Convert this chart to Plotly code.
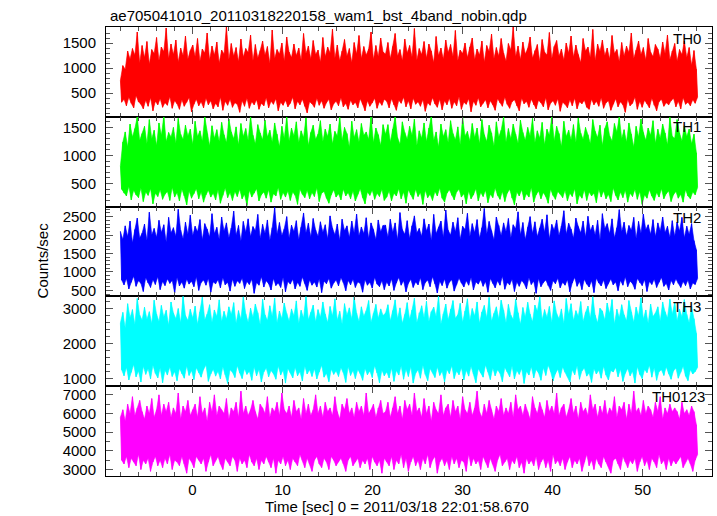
import plotly.graph_objects as go
from plotly.subplots import make_subplots

TITLE = "ae705041010_20110318220158_wam1_bst_4band_nobin.qdp"
X_TITLE = "Time [sec] 0 = 2011/03/18 22:01:58.670"
Y_TITLE = "Counts/sec"
T_START = -8.0
T_END = 56.1

band_names = ["TH0", "TH1", "TH2", "TH3", "TH0123"]
band_colors = ["#ff0000", "#00ff00", "#0000ff", "#00ffff", "#ff00ff"]

# alternating local peaks / troughs of each light curve, read along the time axis
th0 = [
    760, 320, 1050, 380, 980, 250, 1340, 420, 1180, 300, 1390, 210, 1260, 450, 1720, 330, 1100, 280, 1450, 190,
    1210, 360, 1530, 240, 1080, 410, 1370, 150, 1290, 340, 1610, 270, 1150, 390, 1420, 220, 1330, 310, 1800, 260,
    1190, 430, 1480, 200, 1270, 350, 1560, 290, 1120, 180, 1400, 370, 1250, 240, 1640, 320, 1180, 410, 1350, 130,
    1460, 280, 1230, 380, 1590, 250, 1140, 330, 1380, 210, 1300, 400, 1700, 270, 1160, 350, 1440, 190, 1260, 300,
    1520, 230, 1100, 420, 1360, 160, 1280, 340, 1830, 260, 1170, 380, 1490, 220, 1240, 310, 1410, 280, 1130, 120,
    1580, 350, 1220, 240, 1390, 400, 1310, 200, 1660, 330, 1150, 270, 1470, 370, 1200, 180, 1350, 300, 1540, 250,
    1260, 410, 1430, 210, 1090, 340, 1760, 280, 1190, 390, 1370, 150, 1280, 320, 1500, 260, 1140, 360, 1620, 230,
    1320, 300, 1210, 420, 1480, 190, 1250, 340, 1400, 270, 1160, 380, 1690, 240, 1290, 110, 1440, 330, 1180, 290,
    1550, 220, 1270, 400, 1360, 260, 1120, 350, 1610, 200, 1230, 310, 1420, 380, 1300, 170, 1780, 290, 1200, 340,
    1460, 250, 1150, 410, 1340, 230, 1570, 300, 1240, 180, 1390, 360, 1110, 270, 1510, 320, 1280, 210, 1650, 390,
    1190, 280, 1430, 150, 1260, 350, 1380, 240, 1720, 310, 1170, 400, 1450, 200, 1230, 330, 1600, 260, 1320, 380,
    1280, 340, 1510, 210, 1190, 390, 1430, 270, 1690, 160, 1240, 360, 1370, 300, 1150, 420, 1580, 230, 1300, 350,
    1450, 190, 1220, 400, 1790, 280, 1160, 330, 1390, 240, 1270, 370, 1530, 140, 1200, 310, 1480, 260, 1340, 410,
    1110, 290, 1630, 220, 1250, 380, 1400, 170, 1180, 350, 1560, 270, 1310, 400, 1470, 200, 1230, 330, 1750, 250,
    1150, 430, 1360, 180, 1290, 320, 1500, 280, 1210, 390, 1420, 130, 1600, 340, 1170, 260, 1380, 410, 1260, 230,
    1540, 300, 1120, 370, 1450, 210, 1330, 350, 1680, 270, 1190, 160, 1410, 390, 1240, 310, 1590, 240, 1300, 420,
    1140, 280, 1490, 200, 1360, 330, 1820, 370, 1230, 250, 1440, 150, 1170, 400, 1520, 290, 1280, 340, 1390, 220,
    1620, 380, 1200, 270, 1350, 190, 1470, 360, 1130, 310, 1570, 230, 1320, 410, 1260, 170, 1710, 300, 1190, 350,
    1430, 260, 1550, 390, 1240, 140, 1380, 320, 1160, 280, 1500, 210, 1300, 370, 1640, 250, 1220, 400, 1460, 190,
    1270, 330, 1110, 290, 1590, 360, 1340, 220, 1420, 180, 1210, 380, 1770, 270, 1150, 340, 1480, 240, 1330, 410,
    1560, 200, 1250, 310, 1400, 350, 1180, 160, 1650, 290, 1290, 390, 1370, 230, 1130, 330, 1510, 270, 1240, 120,
    1440, 380, 1310, 250, 1700, 300, 1190, 420, 1360, 180, 1540, 340, 1270, 220, 1410, 360, 1160, 290, 1590, 210,
    1320, 400, 1230, 260, 1470, 150, 1380, 330, 1200, 380, 1520, 240, 1290, 310, 1660, 270, 1170, 350, 1340, 400,
    1490, 230, 1140, 340, 1370, 190, 1270, 410, 1540, 280, 1210, 320, 1410, 250, 1060, 370, 1350, 300, 980, 420,
]
th1 = [
    820, 400, 1240, 330, 1420, 280, 1150, 450, 1560, 210, 1330, 380, 1480, 300, 1690, 250, 1270, 420, 1390, 180,
    1520, 350, 1210, 290, 1640, 410, 1300, 140, 1450, 330, 1180, 270, 1580, 390, 1360, 220, 1700, 310, 1250, 360,
    1410, 200, 1330, 430, 1500, 260, 1220, 340, 1660, 190, 1380, 400, 1290, 280, 1540, 120, 1350, 370, 1470, 240,
    1200, 320, 1610, 410, 1340, 230, 1440, 350, 1260, 170, 1690, 300, 1390, 380, 1170, 260, 1530, 330, 1310, 210,
    1460, 390, 1250, 150, 1590, 290, 1370, 420, 1230, 250, 1650, 340, 1420, 200, 1300, 360, 1510, 270, 1190, 400,
    1570, 230, 1340, 310, 1480, 110, 1270, 380, 1700, 260, 1360, 330, 1210, 410, 1550, 190, 1400, 300, 1280, 350,
    1630, 240, 1330, 390, 1450, 170, 1240, 320, 1580, 280, 1380, 430, 1160, 220, 1520, 340, 1310, 260, 1690, 370,
    1260, 200, 1490, 350, 1350, 290, 1600, 130, 1230, 400, 1440, 310, 1320, 250, 1670, 380, 1180, 230, 1410, 340,
    1540, 270, 1290, 420, 1380, 180, 1620, 330, 1250, 360, 1470, 240, 1340, 150, 1560, 300, 1210, 390, 1430, 260,
    1350, 320, 1680, 210, 1270, 400, 1500, 280, 1390, 340, 1150, 230, 1610, 370, 1320, 190, 1460, 310, 1240, 410,
    1570, 250, 1360, 140, 1420, 350, 1290, 290, 1700, 380, 1230, 220, 1490, 330, 1370, 270, 1180, 400, 1550, 200,
    1380, 260, 1550, 370, 1240, 190, 1470, 330, 1690, 280, 1320, 410, 1200, 230, 1600, 350, 1410, 150, 1290, 390,
    1520, 300, 1360, 220, 1650, 400, 1180, 270, 1440, 340, 1310, 130, 1580, 380, 1250, 250, 1490, 310, 1700, 200,
    1270, 360, 1420, 280, 1150, 420, 1560, 240, 1340, 170, 1460, 330, 1230, 390, 1620, 290, 1390, 210, 1280, 350,
    1510, 400, 1190, 260, 1680, 320, 1350, 140, 1430, 370, 1260, 230, 1570, 300, 1320, 410, 1490, 190, 1210, 340,
    1640, 270, 1370, 380, 1250, 160, 1540, 310, 1400, 250, 1170, 420, 1600, 290, 1330, 220, 1450, 360, 1690, 180,
    1240, 330, 1480, 400, 1300, 240, 1560, 120, 1380, 350, 1220, 280, 1630, 390, 1410, 210, 1270, 320, 1500, 260,
    1350, 430, 1660, 170, 1230, 300, 1440, 370, 1310, 230, 1590, 340, 1190, 270, 1470, 150, 1360, 400, 1700, 290,
    1260, 220, 1520, 360, 1390, 310, 1160, 250, 1610, 380, 1340, 190, 1450, 330, 1280, 270, 1550, 410, 1230, 140,
    1670, 300, 1400, 240, 1290, 390, 1500, 200, 1370, 350, 1210, 280, 1640, 330, 1430, 160, 1320, 400, 1540, 260,
    1180, 370, 1480, 230, 1600, 310, 1350, 180, 1260, 420, 1570, 290, 1420, 210, 1690, 350, 1300, 250, 1460, 380,
    1240, 170, 1580, 330, 1380, 270, 1150, 400, 1520, 220, 1330, 360, 1650, 130, 1410, 300, 1270, 240, 1490, 390,
    1360, 280, 1620, 200, 1220, 340, 1470, 260, 1310, 410, 1560, 230, 1400, 320, 1190, 370, 1680, 180, 1340, 300,
    1310, 360, 1640, 240, 1400, 310, 1260, 170, 1530, 390, 1340, 280, 1470, 230, 1210, 350, 1380, 300, 1050, 430,
]
th2 = [
    2100, 780, 1880, 650, 2250, 820, 1960, 540, 2380, 720, 1790, 880, 2150, 610, 2460, 760, 1920, 690, 2050, 470,
    2300, 840, 1850, 700, 2620, 580, 2010, 790, 2180, 660, 1940, 870, 2400, 520, 2070, 740, 2280, 630, 1810, 810,
    2480, 690, 2060, 770, 2200, 430, 1970, 850, 2700, 620, 2130, 730, 1900, 560, 2350, 800, 2020, 670, 2540, 750,
    1980, 600, 2240, 860, 2090, 500, 2420, 710, 1870, 780, 2310, 640, 2160, 820, 1950, 450, 2580, 730, 2040, 680,
    2210, 790, 1890, 570, 2490, 840, 2110, 650, 2330, 720, 1930, 480, 2190, 800, 2650, 610, 2000, 760, 2260, 690,
    1840, 830, 2370, 550, 2080, 740, 2440, 660, 1960, 800, 2230, 420, 2120, 710, 2560, 640, 1910, 870, 2290, 590,
    2050, 760, 2410, 680, 1860, 510, 2200, 820, 2750, 630, 2030, 700, 2340, 580, 1990, 850, 2170, 460, 2500, 740,
    1920, 670, 2270, 800, 2100, 540, 2390, 720, 1880, 610, 2210, 860, 2600, 690, 2060, 500, 2320, 780, 1950, 640,
    2450, 730, 2140, 590, 1970, 810, 2360, 440, 2080, 750, 2280, 680, 1900, 820, 2520, 560, 2190, 700, 2010, 780,
    2300, 620, 1860, 840, 2430, 710, 2120, 490, 2250, 770, 1940, 650, 2380, 800, 2060, 580, 2570, 730, 1980, 690,
    2220, 450, 2040, 790, 2470, 640, 1910, 720, 2330, 560, 2150, 850, 1880, 670, 2410, 600, 2090, 760, 2260, 520,
    2270, 730, 1950, 620, 2430, 810, 2080, 500, 2330, 700, 1880, 850, 2610, 640, 2150, 760, 2020, 460, 2390, 690,
    1910, 800, 2250, 580, 2520, 730, 2060, 650, 2180, 840, 1970, 520, 2440, 710, 2110, 780, 2300, 600, 1850, 870,
    2560, 680, 2040, 430, 2210, 750, 2380, 630, 1940, 810, 2680, 560, 2130, 720, 2000, 790, 2350, 480, 2090, 660,
    2470, 830, 1890, 700, 2240, 590, 2150, 760, 2590, 640, 1960, 850, 2310, 510, 2070, 730, 2420, 670, 1920, 790,
    2200, 610, 2720, 740, 2030, 450, 2370, 820, 2120, 690, 1870, 570, 2490, 760, 2260, 640, 1990, 880, 2330, 530,
    2100, 710, 2450, 650, 1930, 800, 2280, 470, 2170, 730, 2630, 610, 2010, 770, 2340, 690, 1880, 540, 2210, 840,
    2500, 660, 2050, 750, 2360, 420, 1960, 820, 2190, 600, 2430, 710, 2080, 780, 2550, 630, 1900, 500, 2290, 760,
    2140, 680, 2410, 830, 1990, 570, 2250, 720, 2660, 640, 2030, 790, 2320, 460, 2160, 700, 1920, 850, 2460, 610,
    2230, 740, 2060, 520, 2380, 800, 1950, 670, 2510, 590, 2120, 760, 2270, 440, 2000, 830, 2400, 700, 1870, 620,
    2580, 780, 2180, 550, 2310, 690, 2040, 810, 2440, 650, 1930, 730, 2200, 490, 2690, 770, 2090, 640, 2350, 860,
    1980, 600, 2260, 750, 2130, 680, 2480, 530, 1910, 820, 2370, 710, 2050, 630, 2570, 790, 2150, 470, 2280, 740,
    2020, 660, 2420, 800, 1960, 580, 2330, 720, 2110, 850, 2490, 610, 2070, 690, 2240, 510, 1940, 770, 2390, 650,
    1970, 810, 2350, 690, 2110, 580, 2480, 740, 1930, 630, 2240, 780, 2020, 540, 2310, 700, 1850, 660, 1600, 820,
]
th3 = [
    2600, 1250, 2900, 1080, 2450, 1320, 3150, 960, 2750, 1180, 2980, 1400, 2550, 1050, 3300, 1220, 2820, 900, 2680, 1350,
    3050, 1120, 2700, 1280, 2920, 990, 2580, 1380, 3250, 1150, 2850, 1020, 2640, 1300, 3100, 880, 2770, 1240, 2960, 1100,
    2530, 1330, 3200, 1060, 2880, 1200, 2720, 940, 3010, 1290, 2600, 1140, 3380, 1010, 2810, 1360, 2670, 1090, 2990, 1230,
    2740, 970, 3080, 1310, 2560, 1170, 2910, 1040, 3340, 1260, 2690, 1390, 2850, 920, 3120, 1130, 2620, 1270, 2970, 1070,
    2780, 1210, 3260, 990, 2640, 1340, 2930, 1110, 2710, 860, 3060, 1250, 2840, 1180, 3180, 1030, 2590, 1370, 2950, 1160,
    2700, 1000, 3350, 1280, 2860, 1120, 2620, 1210, 3020, 950, 2760, 1330, 3140, 1080, 2890, 1260, 2550, 900, 3280, 1190,
    2830, 1300, 2670, 1050, 3090, 1230, 2790, 1140, 3310, 980, 2600, 1360, 2940, 1100, 2720, 1240, 3170, 870, 2870, 1290,
    2650, 1170, 3000, 1020, 2800, 1320, 3230, 1080, 2580, 1200, 2960, 930, 2740, 1350, 3360, 1130, 2690, 1250, 2900, 1060,
    3110, 1280, 2630, 990, 2980, 1190, 2760, 1380, 3200, 1040, 2850, 1150, 2610, 910, 3070, 1270, 2800, 1120, 3290, 1220,
    2680, 1060, 2930, 1310, 2570, 1170, 3150, 890, 2820, 1340, 3030, 1090, 2710, 1230, 3340, 1000, 2880, 1260, 2640, 1140,
    3060, 950, 2790, 1290, 2950, 1110, 3240, 1220, 2620, 1030, 2870, 1370, 3130, 1160, 2730, 880, 3000, 1240, 2810, 1080,
    2880, 1190, 3120, 1020, 2660, 1300, 2950, 920, 3260, 1230, 2720, 1100, 3030, 1360, 2590, 980, 2840, 1270, 3180, 1060,
    2700, 1340, 2970, 870, 3310, 1150, 2610, 1250, 2890, 1010, 3090, 1380, 2750, 1120, 3220, 940, 2640, 1290, 2920, 1180,
    3050, 1030, 2780, 1330, 3370, 1090, 2570, 1210, 2860, 900, 3140, 1260, 2690, 1140, 2990, 1370, 3240, 1000, 2730, 1220,
    2830, 1110, 3160, 1310, 2620, 960, 2940, 1240, 3290, 1070, 2680, 1350, 3010, 1130, 2800, 880, 3200, 1280, 2590, 1170,
    2910, 1040, 3100, 1390, 2740, 1200, 3330, 970, 2650, 1300, 2870, 1080, 3060, 1250, 2710, 1150, 3250, 910, 2960, 1320,
    2600, 1190, 3130, 1050, 2820, 1360, 2700, 990, 3280, 1230, 2890, 1120, 2560, 1290, 3040, 860, 2770, 1210, 3190, 1100,
    2850, 1340, 2630, 1020, 3110, 1260, 2930, 1160, 3350, 950, 2690, 1310, 2980, 1090, 2760, 1380, 3070, 1200, 2610, 930,
    3230, 1140, 2870, 1270, 2720, 1030, 3000, 1330, 2580, 1180, 3300, 1060, 2840, 900, 3150, 1250, 2670, 1110, 2950, 1370,
    2790, 980, 3210, 1220, 2640, 1300, 2900, 1070, 3080, 1160, 2730, 890, 3360, 1280, 2820, 1130, 2600, 1240, 3020, 1010,
    2940, 1350, 2680, 1100, 3170, 960, 2860, 1230, 3270, 1190, 2570, 1320, 2990, 1050, 2750, 1270, 3120, 920, 2830, 1150,
    2660, 1290, 3240, 1080, 2910, 1210, 2620, 870, 3050, 1340, 2800, 1120, 3320, 1000, 2710, 1260, 2970, 1170, 2590, 1380,
    3140, 1040, 2780, 1310, 2880, 950, 3060, 1200, 2650, 1250, 3200, 1090, 2920, 1330, 2740, 1140, 3280, 980, 2850, 1220,
    3190, 1300, 2660, 1010, 2990, 1180, 2770, 1350, 3270, 1070, 2840, 940, 2600, 1250, 3080, 1130, 2720, 1200, 2300, 1320,
]
th0123 = [
    5800, 3500, 6200, 3300, 5600, 3700, 6500, 3100, 6000, 3600, 6900, 3400, 5900, 3200, 6300, 3800, 6700, 3000, 6100, 3500,
    5700, 3300, 6400, 3600, 6000, 2900, 6800, 3400, 5800, 3700, 6200, 3200, 7000, 3500, 5900, 3100, 6500, 3600, 6100, 3300,
    6600, 3800, 5800, 3000, 6300, 3500, 6000, 3400, 7100, 3200, 5700, 3700, 6400, 3300, 6100, 2800, 6700, 3600, 5900, 3400,
    6200, 3100, 6500, 3700, 5800, 3500, 6900, 3300, 6000, 3600, 6300, 2900, 5600, 3400, 6600, 3800, 6100, 3200, 7000, 3500,
    5900, 3700, 6400, 3300, 6200, 3000, 6000, 3600, 6800, 3400, 5700, 3200, 6300, 3700, 6100, 3500, 6600, 2900, 5800, 3600,
    7200, 3300, 6000, 3500, 6400, 3100, 5900, 3800, 6200, 3400, 6700, 3200, 6100, 3600, 5700, 3000, 6500, 3500, 6300, 3300,
    6000, 3700, 6900, 3400, 5800, 3100, 6300, 3600, 6100, 2800, 6600, 3500, 5900, 3300, 7100, 3700, 6200, 3200, 6000, 3500,
    6400, 3000, 5800, 3600, 6700, 3400, 6100, 3200, 6300, 3800, 5700, 3500, 6800, 3100, 6000, 3600, 6500, 3300, 5900, 2900,
    6200, 3500, 7000, 3700, 6000, 3300, 6400, 3100, 5800, 3600, 6600, 3400, 6100, 3000, 6300, 3700, 5900, 3500, 6900, 3200,
    6100, 3400, 5700, 3600, 6500, 3300, 6200, 2900, 6800, 3500, 6000, 3700, 6300, 3200, 5800, 3400, 6600, 3600, 6100, 3100,
    6400, 3500, 5900, 3300, 7100, 3600, 6000, 3000, 6200, 3700, 6500, 3400, 5800, 3200, 6300, 3500, 6700, 2800, 6000, 3600,
    6100, 3400, 6600, 3200, 5800, 3700, 6300, 3000, 6900, 3500, 6000, 3300, 6400, 3800, 5700, 3100, 6700, 3600, 6200, 2900,
    6500, 3400, 5900, 3700, 7100, 3200, 6100, 3500, 6300, 3000, 5800, 3600, 6800, 3300, 6000, 3800, 6400, 3100, 5600, 3500,
    6600, 3700, 6200, 2800, 6000, 3400, 7000, 3600, 5900, 3200, 6300, 3500, 6500, 3000, 5800, 3700, 6700, 3300, 6100, 3600,
    6400, 3100, 5700, 3500, 6900, 3400, 6200, 2900, 6000, 3800, 6600, 3200, 5900, 3600, 6300, 3300, 7200, 3500, 6100, 3000,
    5800, 3700, 6500, 3400, 6000, 3100, 6700, 3600, 6200, 3300, 5700, 2900, 6400, 3500, 6100, 3800, 6800, 3200, 5900, 3400,
    6300, 3600, 6000, 3000, 6600, 3500, 5800, 3300, 7000, 3700, 6200, 3100, 6400, 3400, 5900, 2800, 6500, 3600, 6100, 3300,
    5700, 3500, 6900, 3200, 6300, 3700, 6000, 3000, 6600, 3400, 6200, 3600, 5800, 3100, 6700, 3500, 6100, 2900, 6400, 3800,
    6000, 3300, 7100, 3500, 5900, 3200, 6300, 3600, 6500, 3000, 5800, 3400, 6200, 3700, 6800, 3100, 6000, 3500, 6400, 3300,
    5700, 3600, 6600, 2900, 6100, 3400, 6300, 3800, 5900, 3200, 7000, 3500, 6200, 3000, 6500, 3600, 5800, 3300, 6400, 3100,
    6000, 3700, 6700, 3400, 5900, 3200, 6300, 2800, 6100, 3500, 6900, 3600, 5800, 3300, 6400, 3000, 6200, 3700, 6600, 3400,
    5700, 3100, 6500, 3500, 6000, 3300, 7200, 3600, 6100, 2900, 6300, 3400, 5900, 3700, 6700, 3200, 6000, 3500, 6400, 3000,
    6200, 3600, 5800, 3400, 6600, 3100, 6100, 3800, 6900, 3300, 5700, 3500, 6300, 3000, 6000, 3600, 6500, 3200, 6100, 3500,
    6300, 3300, 6100, 3500, 5700, 3700, 6600, 3100, 6000, 3400, 6200, 3600, 5900, 3300, 6400, 2900, 6100, 3500, 5400, 3800,
]
series = [th0, th1, th2, th3, th0123]

y_ranges = [[30, 1820], [90, 1690], [336, 2773], [780, 3360], [2650, 7465]]
y_ticks = [[500, 1000, 1500], [500, 1000, 1500], [500, 1000, 1500, 2000, 2500],
           [1000, 2000, 3000], [3000, 4000, 5000, 6000, 7000]]
y_minor = [100, 100, 100, 200, 500]
x_range = [-9.6, 57.7]
label_x = [0.9857, 0.9857, 0.9857, 0.9857, 0.9924]
label_y = [0.9755, 0.778, 0.5768, 0.3786, 0.176]

FONT = "Liberation Sans, Arial, Helvetica, sans-serif"
TICKC = "#555555"

fig = make_subplots(rows=5, cols=1, shared_xaxes=True, vertical_spacing=0)

for i, (vals, col) in enumerate(zip(series, band_colors)):
    n = len(vals)
    t = [T_START + (T_END - T_START) * k / (n - 1) for k in range(n)]
    # envelope band: peaks (upper edge) and troughs (lower edge)
    fig.add_trace(go.Scatter(x=t[0::2], y=vals[0::2], mode="lines",
                             line=dict(color=col, width=0.6),
                             showlegend=False, hoverinfo="skip"),
                  row=i + 1, col=1)
    fig.add_trace(go.Scatter(x=t[1::2], y=vals[1::2], mode="lines",
                             line=dict(color=col, width=0.6),
                             fill="tonexty", fillcolor=col,
                             showlegend=False, hoverinfo="skip"),
                  row=i + 1, col=1)
    fig.add_trace(go.Scatter(x=t, y=vals, mode="lines",
                             line=dict(color=col, width=0.8),
                             showlegend=False, hoverinfo="skip"),
                  row=i + 1, col=1)
    fig.update_yaxes(range=y_ranges[i], tickvals=y_ticks[i],
                     ticks="inside", ticklen=7, tickcolor=TICKC, tickwidth=1,
                     minor=dict(dtick=y_minor[i], ticks="inside", ticklen=4,
                                tickcolor=TICKC, tickwidth=1, showgrid=False),
                     showline=True, linecolor="black", linewidth=1, mirror="allticks",
                     showgrid=False, zeroline=False, ticklabelstandoff=6,
                     tickfont=dict(family=FONT, size=15, color="black"),
                     row=i + 1, col=1)
    fig.update_xaxes(range=x_range, dtick=10, tick0=0,
                     ticks="inside", ticklen=7, tickcolor=TICKC, tickwidth=1,
                     minor=dict(dtick=2, ticks="inside", ticklen=4,
                                tickcolor=TICKC, tickwidth=1, showgrid=False),
                     showline=True, linecolor="black", linewidth=1, mirror="allticks",
                     showgrid=False, zeroline=False,
                     showticklabels=(i == 4),
                     tickfont=dict(family=FONT, size=15, color="black"),
                     row=i + 1, col=1)
    fig.add_annotation(text=band_names[i], xref="paper", yref="paper",
                       x=label_x[i], y=label_y[i], xanchor="right", yanchor="middle",
                       showarrow=False, font=dict(family=FONT, size=15, color="black"))

fig.add_annotation(text=TITLE, xref="paper", yref="paper", x=0.004, y=1.0267,
                   xanchor="left", yanchor="middle", showarrow=False,
                   font=dict(family=FONT, size=15, color="black"))
fig.add_annotation(text=Y_TITLE, xref="paper", yref="paper", x=-0.105, y=0.481,
                   xanchor="center", yanchor="middle", textangle=-90, showarrow=False,
                   font=dict(family=FONT, size=15, color="black"))
fig.add_annotation(text=X_TITLE, xref="paper", yref="paper", x=0.4807, y=-0.069,
                   xanchor="center", yanchor="middle", showarrow=False,
                   font=dict(family=FONT, size=15, color="black"))

fig.update_layout(width=717, height=516, margin=dict(l=106, r=5, t=27, b=40),
                  plot_bgcolor="white", paper_bgcolor="white")

fig.write_html("out.html", config={"displayModeBar": False},
               post_script="document.body.style.margin='0px';document.body.style.overflow='hidden';")
